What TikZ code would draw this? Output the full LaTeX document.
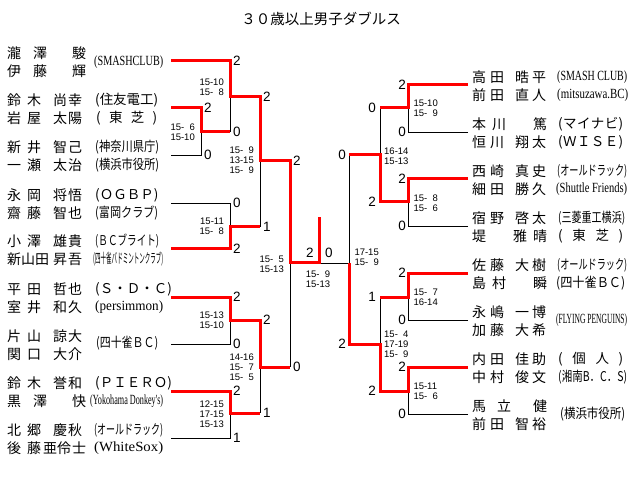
\documentclass[tikz,border=0pt]{standalone}
\usepackage{fontspec}
\usepackage{graphicx}
\setmainfont{Liberation Sans}
\newfontfamily\jp{Noto Sans CJK JP}
\newfontfamily\lser{Liberation Serif}
\newcommand\ch[2]{\makebox[#1pt][l]{#2}}
\newcommand\sq[2]{\resizebox{#1pt}{\height}{#2}}
\newcommand\ds[2]{\makebox[#1pt][s]{#2}}
\newcommand\fsp{\phantom{1}}
\tikzset{
 nm/.style={anchor=west, inner sep=0pt, font=\jp\fontsize{14}{14}\selectfont},
 af/.style={anchor=west, inner sep=0pt, font=\jp\fontsize{13.5}{14}\selectfont},
 afs/.style={anchor=west, inner sep=0pt, font=\lser\fontsize{14}{14}\selectfont},
 bigL/.style={anchor=west, inner sep=0pt, font=\fontsize{13.5}{14}\selectfont},
 bigR/.style={anchor=east, inner sep=0pt, font=\fontsize{13.5}{14}\selectfont},
 scL/.style={anchor=east, inner sep=0pt, align=right, font=\fontsize{9.5}{10}\selectfont},
 scR/.style={anchor=west, inner sep=0pt, align=left, font=\fontsize{9.5}{10}\selectfont},
 win/.style={draw=red, line width=3pt, line join=miter},
 los/.style={draw=black, line width=0.9pt},
}
\begin{document}
\begin{tikzpicture}[x=1pt,y=-1pt]
\fill[white] (0,0) rectangle (640,489);
\useasboundingbox (0,0) rectangle (640,489);
% title
\node[inner sep=0pt, font=\jp\fontsize{14.5}{15}\selectfont] (title) at (321,19) {３０歳以上男子ダブルス};
% ---------- black (losing) lines ----------
\draw[los] (171,155) -| (201,132);
\draw[los] (230,97) -- (230,132);
\draw[los] (171,203) -| (230,227);
\draw[los] (260,161) -- (260,227);
\draw[los] (171,344) -| (230,320);
\draw[los] (171,438) -| (230,413);
\draw[los] (260,367) -- (260,413);
\draw[los] (290,263) -- (290,367);
\draw[los] (468,132) -| (408,108);
\draw[los] (468,226) -| (408,202);
\draw[los] (380,108) -- (380,155);
\draw[los] (468,320) -| (408,297);
\draw[los] (468,414) -| (408,391);
\draw[los] (380,297) -- (380,344);
\draw[los] (349,155) -- (349,263) -- (319,263);
% ---------- red (winning) lines ----------
\draw[win] (171,61) -| (230,97) -| (260,161) -| (290,263) -| (319,217);
\draw[win] (171,108) -| (201,132) -- (230,132);
\draw[win] (171,249) -| (230,227) -- (260,227);
\draw[win] (171,297) -| (230,320) -| (260,367) -- (290,367);
\draw[win] (171,391) -| (230,413) -- (260,413);
\draw[win] (468,85) -| (408,108) -- (380,108);
\draw[win] (468,179) -| (408,202) -| (380,155) -- (349,155);
\draw[win] (468,273) -| (408,297) -- (380,297);
\draw[win] (468,367) -| (408,391) -| (380,344) -| (349,263);
% ---------- left names ----------
\node[nm] (l1a) at (7,53.5) {\ch{26}{瀧}\ch{39}{澤}駿};
\node[nm] (l1b) at (7,71) {\ch{26}{伊}\ch{39}{藤}輝};
\node[afs] (a1) at (94,62) {\sq{69}{(SMASHCLUB)}};
\node[nm] (l2a) at (7,100.5) {\ch{20}{鈴}\ch{26}{木}\ch{15}{尚}幸};
\node[nm] (l2b) at (7,118) {\ch{20}{岩}\ch{26}{屋}\ch{15}{太}陽};
\node[af] (a2a) at (95,100.5) {\sq{63}{(住友電工)}};
\node[af] (a2b) at (96,118) {\ds{61}{(\hfill 東\hfill 芝\hfill )}};
\node[nm] (l3a) at (7,147.5) {\ch{20}{新}\ch{26}{井}\ch{15}{智}己};
\node[nm] (l3b) at (7,165) {\ch{20}{一}\ch{26}{瀬}\ch{15}{太}治};
\node[af] (a3a) at (95,147.5) {\sq{64}{(神奈川県庁)}};
\node[af] (a3b) at (95,165) {\sq{64}{(横浜市役所)}};
\node[nm] (l4a) at (7,195.5) {\ch{20}{永}\ch{26}{岡}\ch{15}{将}悟};
\node[nm] (l4b) at (7,213) {\ch{20}{齋}\ch{26}{藤}\ch{15}{智}也};
\node[af] (a4a) at (95,195.5) {\ds{63}{(\hfill Ｏ\hfill Ｇ\hfill Ｂ\hfill Ｐ\hfill )}};
\node[af] (a4b) at (95,213) {\sq{63}{(富岡クラブ)}};
\node[nm] (l5a) at (7,241.5) {\ch{20}{小}\ch{26}{澤}\ch{15}{雄}貴};
\node[nm] (l5b) at (7,259) {\ch{14}{新}\ch{14}{山}\ch{18}{田}\ch{15}{昇}吾};
\node[af] (a5a) at (95,241.5) {\sq{64}{(ＢＣブライト)}};
\node[af] (a5b) at (93,259) {\sq{70}{(四十雀バドミントンクラブ)}};
\node[nm] (l6a) at (7,289.5) {\ch{20}{平}\ch{26}{田}\ch{15}{哲}也};
\node[nm] (l6b) at (7,307) {\ch{20}{室}\ch{26}{井}\ch{15}{和}久};
\node[af] (a6a) at (95,289.5) {\ds{68}{(\hfill Ｓ\hfill ・\hfill Ｄ\hfill ・\hfill Ｃ\hfill )}};
\node[afs] (a6b) at (95,307) {\sq{68}{(persimmon)}};
\node[nm] (l7a) at (7,336.5) {\ch{20}{片}\ch{26}{山}\ch{15}{諒}大};
\node[nm] (l7b) at (7,354) {\ch{20}{関}\ch{26}{口}\ch{15}{大}介};
\node[af] (a7) at (96,343.5) {\sq{62}{(四十雀ＢＣ)}};
\node[nm] (l8a) at (7,383.5) {\ch{20}{鈴}\ch{26}{木}\ch{15}{誉}和};
\node[nm] (l8b) at (7,401) {\ch{26}{黒}\ch{39}{澤}快};
\node[af] (a8a) at (95,383.5) {\ds{66}{(\hfill Ｐ\hfill Ｉ\hfill Ｅ\hfill Ｒ\hfill Ｏ\hfill )}};
\node[afs] (a8b) at (90,401) {\sq{73}{(Yokohama Donkey's)}};
\node[nm] (l9a) at (7,430.5) {\ch{20}{北}\ch{26}{郷}\ch{15}{慶}秋};
\node[nm] (l9b) at (7,448) {\ch{20}{後}\ch{16}{藤}\ch{14}{亜}\ch{15}{伶}士};
\node[af] (a9a) at (94,430.5) {\sq{69}{(オールドラック)}};
\node[afs] (a9b) at (94,448) {\sq{69}{(WhiteSox)}};
% ---------- right names ----------
\node[nm] (r1a) at (472,77.5) {\ch{18}{高}\ch{25}{田}\ch{17}{晧}平};
\node[nm] (r1b) at (472,95) {\ch{18}{前}\ch{25}{田}\ch{17}{直}人};
\node[afs] (b1a) at (557,77.5) {\sq{70}{(SMASH CLUB)}};
\node[afs] (b1b) at (557,95) {\sq{71}{(mitsuzawa.BC)}};
\node[nm] (r2a) at (472,124.5) {\ch{20}{本}\ch{41}{川}篤};
\node[nm] (r2b) at (472,142) {\ch{18}{恒}\ch{25}{川}\ch{17}{翔}太};
\node[af] (b2a) at (558,124.5) {\ds{65}{(\hfill マ\hfill イ\hfill ナ\hfill ビ\hfill )}};
\node[af] (b2b) at (558,142) {\ds{65}{(\hfill Ｗ\hfill Ｉ\hfill Ｓ\hfill Ｅ\hfill )}};
\node[nm] (r3a) at (472,171.5) {\ch{18}{西}\ch{25}{崎}\ch{17}{真}史};
\node[nm] (r3b) at (472,189) {\ch{18}{細}\ch{25}{田}\ch{17}{勝}久};
\node[af] (b3a) at (557,171.5) {\sq{70}{(オールドラック)}};
\node[afs] (b3b) at (556,189) {\sq{71}{(Shuttle Friends)}};
\node[nm] (r4a) at (472,218.5) {\ch{18}{宿}\ch{25}{野}\ch{17}{啓}太};
\node[nm] (r4b) at (472,236) {\ch{41}{堤}\ch{20}{雅}晴};
\node[af] (b4a) at (558,218.5) {\sq{67}{(三菱重工横浜)}};
\node[af] (b4b) at (558,236) {\ds{65}{(\hfill 東\hfill 芝\hfill )}};
\node[nm] (r5a) at (472,265.5) {\ch{18}{佐}\ch{25}{藤}\ch{17}{大}樹};
\node[nm] (r5b) at (472,283) {\ch{20}{島}\ch{41}{村}瞬};
\node[af] (b5a) at (557,265.5) {\sq{70}{(オールドラック)}};
\node[af] (b5b) at (556,283) {\sq{69}{(四十雀ＢＣ)}};
\node[nm] (r6a) at (472,312.5) {\ch{18}{永}\ch{25}{嶋}\ch{17}{一}博};
\node[nm] (r6b) at (472,330) {\ch{18}{加}\ch{25}{藤}\ch{17}{大}希};
\node[afs] (b6) at (556,320) {\sq{71}{(FLYING PENGUINS)}};
\node[nm] (r7a) at (472,359.5) {\ch{18}{内}\ch{25}{田}\ch{17}{佳}助};
\node[nm] (r7b) at (472,377) {\ch{18}{中}\ch{25}{村}\ch{17}{俊}文};
\node[af] (b7a) at (558,359.5) {\ds{65}{(\hfill 個\hfill 人\hfill )}};
\node[af] (b7b) at (558,377) {\sq{69}{(湘南B．C．S)}};
\node[nm] (r8a) at (472,406.5) {\ch{25}{馬}\ch{36}{立}健};
\node[nm] (r8b) at (472,424) {\ch{18}{前}\ch{25}{田}\ch{17}{智}裕};
\node[af] (b8) at (560,414) {\sq{65}{(横浜市役所)}};
% ---------- game counts ----------
\node[bigL] (g1) at (233,61) {2};
\node[bigL] (g2) at (204,108) {2};
\node[bigL] (g3) at (204,155) {0};
\node[bigL] (g4) at (233,132) {0};
\node[bigL] (g5) at (263,97) {2};
\node[bigL] (g6) at (233,203) {0};
\node[bigL] (g7) at (233,249) {2};
\node[bigL] (g8) at (263,227) {1};
\node[bigL] (g9) at (293,161) {2};
\node[bigL] (g10) at (233,297) {2};
\node[bigL] (g11) at (233,344) {0};
\node[bigL] (g12) at (263,320) {2};
\node[bigL] (g13) at (233,391) {2};
\node[bigL] (g14) at (233,438) {1};
\node[bigL] (g15) at (263,413) {1};
\node[bigL] (g16) at (293,367) {0};
\node[bigL] (g17) at (306,253) {2};
\node[bigL] (g18) at (325,253) {0};
\node[bigR] (h1) at (406,85) {2};
\node[bigR] (h2) at (406,132) {0};
\node[bigR] (h3) at (406,179) {2};
\node[bigR] (h4) at (406,226) {0};
\node[bigR] (h5) at (406,273) {2};
\node[bigR] (h6) at (406,320) {0};
\node[bigR] (h7) at (406,367) {2};
\node[bigR] (h8) at (406,414) {0};
\node[bigR] (h9) at (376,108) {0};
\node[bigR] (h10) at (376,202) {2};
\node[bigR] (h11) at (346,155) {0};
\node[bigR] (h12) at (376,297) {1};
\node[bigR] (h13) at (376,391) {2};
\node[bigR] (h14) at (346,344) {2};
% ---------- set scores ----------
\node[scL] (s1) at (224,87.7) {15-10\\15-\fsp 8};
\node[scL] (s2) at (195,132.7) {15-\fsp 6\\15-10};
\node[scL] (s3) at (254,160.5) {15-\fsp 9\\13-15\\15-\fsp 9};
\node[scL] (s4) at (224,226.7) {15-11\\15-\fsp 8};
\node[scL] (s5) at (284,264.7) {15-\fsp 5\\15-13};
\node[scL] (s6) at (224,320.7) {15-13\\15-10};
\node[scL] (s7) at (254,367) {14-16\\15-\fsp 7\\15-\fsp 5};
\node[scL] (s8) at (224,414) {12-15\\17-15\\15-13};
\node[scR] (s9) at (305.7,279.7) {15-\fsp 9\\15-13};
\node[scR] (t1) at (413.3,108.3) {15-10\\15-\fsp 9};
\node[scR] (t2) at (413.3,203) {15-\fsp 8\\15-\fsp 6};
\node[scR] (t3) at (384,155.8) {16-14\\15-13};
\node[scR] (t4) at (354.3,257.5) {17-15\\15-\fsp 9};
\node[scR] (t5) at (413.3,297.3) {15-\fsp 7\\16-14};
\node[scR] (t6) at (384,344.5) {15-\fsp 4\\17-19\\15-\fsp 9};
\node[scR] (t7) at (413.3,391.7) {15-11\\15-\fsp 6};
\end{tikzpicture}
\end{document}
